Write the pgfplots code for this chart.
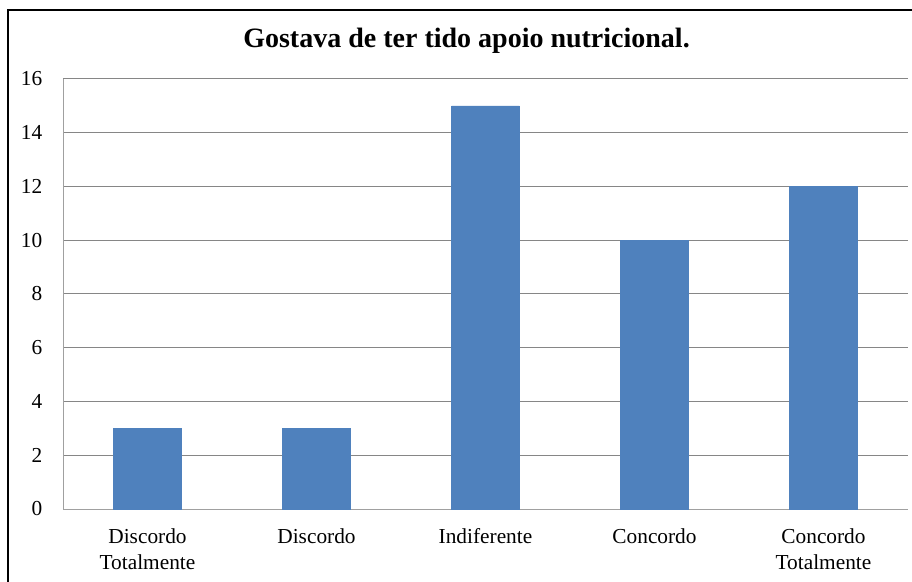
\documentclass[border=0pt]{standalone}
\usepackage{pgfplots}
\pgfplotsset{compat=1.18}
\usepackage{fontspec}
\setmainfont{Liberation Serif}
\definecolor{barblue}{RGB}{79,129,189}
\definecolor{gridgray}{RGB}{134,134,134}
\definecolor{axisgray}{RGB}{160,160,160}

\begin{document}
\begin{tikzpicture}
% page: 912x581 px at 0.75 pt/px
\useasboundingbox (0pt,0pt) rectangle (684pt,435.75pt);
\draw[line width=1.3pt] (6pt,-5pt) -- (6pt,428.25pt) -- (690pt,428.25pt);
\node[anchor=base,font=\fontsize{21}{25}\selectfont\bfseries] at (349.9pt,399.75pt) {Gostava de ter tido apoio nutricional.};
\begin{axis}[
    at={(47.25pt,54pt)}, anchor=south west,
    scale only axis,
    width=633.75pt, height=322.5pt,
    ymin=0, ymax=16, ytick={0,2,...,16},
    xmin=-0.5, xmax=4.5,
    xtick={0,1,2,3,4},
    xticklabels={Discordo\\Totalmente, Discordo, Indiferente, Concordo, Concordo\\Totalmente},
    major tick length=0pt,
    ymajorgrids,
    grid style={gridgray, line width=0.75pt},
    axis line style={axisgray, line width=0.75pt},
    axis x line*=bottom,
    axis y line*=left,
    tick label style={font=\fontsize{16}{20}\selectfont, text=black},
    xticklabel style={align=center, yshift=-11pt},
    yticklabel style={xshift=-12pt},
    /pgf/number format/assume math mode=true,
]
\addplot[ybar, bar width=0.4, fill=barblue, draw=barblue] coordinates {
    (0,3) (1,3) (2,15) (3,10) (4,12)
};
\end{axis}
\end{tikzpicture}
\end{document}
